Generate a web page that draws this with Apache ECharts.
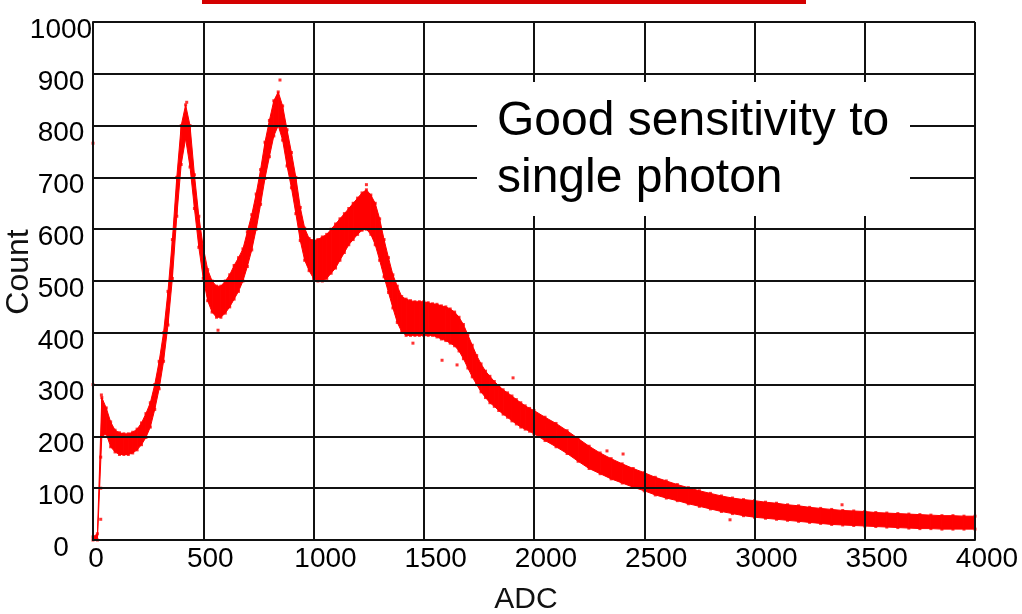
<!DOCTYPE html>
<html>
<head>
<meta charset="utf-8">
<script src="https://cdn.jsdelivr.net/npm/echarts@6/dist/echarts.min.js"></script>
<style>html,body{margin:0;padding:0;background:#fff}#c{width:1022px;height:614px}</style>
</head>
<body>
<div id="c"></div>
<script>
const xTicks = [0, 500, 1000, 1500, 2000, 2500, 3000, 3500, 4000];
const yTicks = [0, 100, 200, 300, 400, 500, 600, 700, 800, 900, 1000];
const adc = [0,20,40,60,80,100,120,140,160,180,200,220,240,260,280,300,320,340,360,380,
  400,420,440,460,480,500,520,540,560,580,600,620,640,660,680,700,720,740,760,780,
  800,820,840,860,880,900,920,940,960,980,1000,1020,1040,1060,1080,1100,1120,1140,1160,1180,
  1200,1220,1240,1260,1280,1300,1320,1340,1360,1380,1400,1420,1440,1460,1480,1500,1520,1540,1560,1580,
  1600,1620,1640,1660,1680,1700,1720,1740,1760,1780,1800,1820,1840,1860,1880,1900,1920,1940,1960,1980,
  2000,2050,2100,2150,2200,2250,2300,2350,2400,2450,2500,2550,2600,2650,2700,2750,2800,2850,2900,2950,
  3000,3050,3100,3150,3200,3250,3300,3350,3400,3450,3500,3550,3600,3650,3700,3750,3800,3850,3900,3950,4000];
const countLow = [0,0,200,205,180,170,165,165,165,168,174,184,198,218,252,292,345,415,505,625,
  725,775,720,640,565,505,462,440,430,430,438,450,465,480,500,528,560,600,648,698,
  740,780,800,772,722,680,630,578,540,520,505,500,500,505,515,525,540,555,570,580,
  590,598,600,590,570,540,508,478,448,420,402,395,395,395,395,395,395,395,392,388,
  385,380,375,365,350,332,315,300,286,275,265,258,250,243,237,230,224,218,214,210,
  205,192,180,167,152,138,128,118,110,102,95,87,81,76,70,65,60,55,51,47,
  44,42,40,38,36,34,32,30,29,28,27,26,25,24,23,22,22,21,21,21,21];
const countHigh = [6,12,275,255,228,212,207,205,205,208,214,226,244,265,300,345,400,480,580,700,
  800,840,800,705,625,565,522,500,490,490,500,512,530,545,562,595,628,668,715,768,
  810,848,865,838,792,748,700,642,602,582,578,580,585,590,600,610,620,630,640,650,
  660,670,676,666,650,620,580,545,512,490,470,465,462,460,460,460,458,456,455,452,
  450,446,440,430,416,396,376,356,340,326,316,306,298,290,284,278,271,265,259,254,
  250,237,225,211,196,181,168,157,147,138,130,121,114,107,101,95,90,85,81,78,
  76,73,71,68,66,63,61,59,57,56,55,53,52,51,50,49,48,47,47,46,46];
const outlierAdc = [0,0,35,35,35,38,425,848,567,1240,1451,1583,1651,1905,2331,2404,2889,3397];
const outlierCount = [766,300,40,100,160,280,845,888,405,686,380,347,338,313,172,166,39,68];

const bandData = adc.map((x, i) => [x, countLow[i], countHigh[i]]);
const edgePts = adc.map((x, i) => [x, countLow[i]]).concat(adc.map((x, i) => [x, countHigh[i]]));
const outPts = outlierAdc.map((x, i) => [x, outlierCount[i]]);

const RED = '#ff0000';
const FONT = '"Liberation Sans",Arial,sans-serif';
const lab = {fontFamily: FONT, fontSize: 28, color: '#000'};
const chart = echarts.init(document.getElementById('c'), null, {renderer: 'canvas'});
chart.setOption({
  animation: false,
  backgroundColor: '#fff',
  grid: {left: 93, right: 47, top: 22, bottom: 74, outerBoundsMode: 'none', containLabel: false},
  xAxis: {
    type: 'value', min: xTicks[0], max: xTicks[xTicks.length - 1], interval: 500, z: 5,
    axisLine: {lineStyle: {color: '#111', width: 2}},
    axisTick: {show: false},
    splitLine: {show: true, lineStyle: {color: '#111', width: 2}},
    axisLabel: {
      margin: 5, hideOverlap: false, showMinLabel: true, showMaxLabel: true,
      formatter: v => '{l' + String(v).length + '|' + v + '}',
      rich: {
        l1: Object.assign({padding: [0, 0, 0, 6]}, lab),
        l3: Object.assign({padding: [0, 0, 0, 14]}, lab),
        l4: Object.assign({padding: [0, 0, 0, 24]}, lab)
      }
    },
    name: 'ADC', nameLocation: 'middle', nameGap: 45,
    nameTextStyle: {fontFamily: FONT, fontSize: 30, color: '#111', padding: [0, 16, 0, 0]}
  },
  yAxis: {
    type: 'value', min: yTicks[0], max: yTicks[yTicks.length - 1], interval: 100, z: 5,
    axisLine: {lineStyle: {color: '#111', width: 2}},
    axisTick: {show: false},
    splitLine: {show: true, lineStyle: {color: '#111', width: 2}},
    axisLabel: {
      margin: 32, align: 'center', hideOverlap: false, showMinLabel: true, showMaxLabel: true,
      formatter: v => '{y|' + v + '}',
      rich: {y: Object.assign({padding: [16, 0, 0, 0]}, lab)}
    }
  },
  series: [
    {
      type: 'custom', data: bandData, z: 2, silent: true,
      encode: {x: 0, y: [1, 2]},
      renderItem: function (params, api) {
        const i = params.dataIndex;
        if (i >= adc.length - 1) return null;
        const a = api.coord([api.value(0), api.value(1)]);
        const b = api.coord([api.value(0), api.value(2)]);
        const c = api.coord([adc[i + 1], countHigh[i + 1]]);
        const d = api.coord([adc[i + 1], countLow[i + 1]]);
        return {type: 'polygon', shape: {points: [a, b, c, d]},
          style: {fill: RED, stroke: RED, lineWidth: 1}};
      }
    },
    {type: 'scatter', data: edgePts, symbol: 'rect', symbolSize: 3, itemStyle: {color: RED}, z: 3, silent: true},
    {type: 'scatter', data: outPts, symbol: 'rect', symbolSize: 3, itemStyle: {color: RED}, z: 3, silent: true}
  ],
  graphic: [
    {type: 'rect', z: 100, shape: {x: 202, y: 0, width: 604, height: 4}, style: {fill: '#d40000'}},
    {type: 'rect', z: 100, shape: {x: 477, y: 82, width: 433, height: 134}, style: {fill: '#fff'}},
    {type: 'text', z: 101, left: 497, top: 93,
      style: {text: 'Good sensitivity to\nsingle photon', font: '48px "Liberation Sans", Arial, sans-serif', fill: '#000', lineHeight: 57}},
    {type: 'text', z: 101, x: 19, y: 272, rotation: Math.PI / 2,
      style: {text: 'Count', font: '32px "Liberation Sans", Arial, sans-serif', fill: '#111', align: 'center', verticalAlign: 'middle'}}
  ]
});
</script>
</body>
</html>
